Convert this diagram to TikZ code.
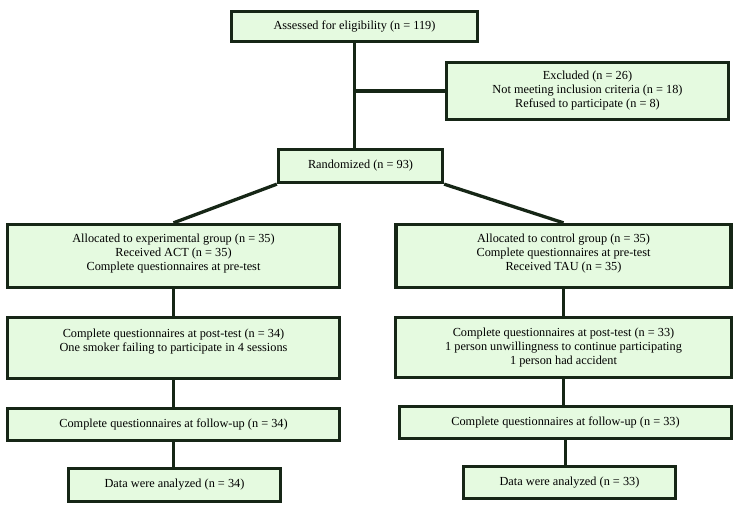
\documentclass[tikz,border=0pt]{standalone}
\usepackage{fontspec}
\setmainfont{Liberation Serif}
\definecolor{boxfill}{RGB}{229,250,224}
\definecolor{boxline}{RGB}{22,38,22}

\begin{document}
\begin{tikzpicture}[x=1pt,y=-1pt]
\tikzstyle{every node}+=[inner sep=0pt, font=\fontsize{12.3}{14}\selectfont, align=center]
\tikzstyle{box}=[draw=boxline, fill=boxfill, line width=3.3pt, rectangle]
\tikzstyle{link}=[draw=boxline, line width=3.3pt]
\useasboundingbox (0,0) rectangle (742,506);
%top
\node [box, minimum width=246pt, minimum height=30pt] (assess) at (354.5,26.5) {Assessed for eligibility (n = 119)};
\node [box, minimum width=282pt, minimum height=57pt] (excl) at (587.5,91) {Excluded (n = 26)\\Not meeting inclusion criteria (n = 18)\\Refused to participate (n = 8)};
\node [box, minimum width=164pt, minimum height=33pt] (rand) at (360.5,166) {Randomized (n = 93)};
%experimental
\node [box, minimum width=332pt, minimum height=63pt, text depth=8pt] (allocE) at (173.5,256) {Allocated to experimental group (n = 35)\\Received ACT (n = 35)\\Complete questionnaires at pre-test};
\node [box, minimum width=332pt, minimum height=61pt, text depth=16pt] (postE) at (173.5,348) {Complete questionnaires at post-test (n = 34)\\One smoker failing to participate in 4 sessions};
\node [box, minimum width=332pt, minimum height=32pt] (followE) at (173.5,424.5) {Complete questionnaires at follow-up (n = 34)};
\node [box, minimum width=212pt, minimum height=33pt] (dataE) at (174.5,485) {Data were analyzed (n = 34)};
%control
\node [box, minimum width=335pt, minimum height=63pt, text depth=8pt] (allocC) at (563.5,256) {Allocated to control group (n = 35)\\Complete questionnaires at pre-test\\Received TAU (n = 35)};
\node [box, minimum width=336pt, minimum height=60pt] (postC) at (563.5,347.5) {Complete questionnaires at post-test (n = 33)\\1 person unwillingness to continue participating\\1 person had accident};
\node [box, minimum width=332pt, minimum height=32pt] (followC) at (565.5,422.5) {Complete questionnaires at follow-up (n = 33)};
\node [box, minimum width=212pt, minimum height=32pt] (dataC) at (569.5,482.5) {Data were analyzed (n = 33)};
%links
\coordinate (split) at (assess.south |- excl.west);
\draw [link] (assess.south) -- (assess.south |- rand.north);
\draw [link] (split) -- (excl.west);
\draw [link] (rand.south west) -- (allocE.north);
\draw [link] (rand.south east) -- (allocC.north);
\draw [link] (allocE.south) -- (postE.north);
\draw [link] (postE.south) -- (followE.north);
\draw [link] (followE.south) -- (followE.south |- dataE.north);
\draw [link] (allocC.south) -- (postC.north);
\draw [link] (postC.south) -- (postC.south |- followC.north);
\draw [link] (followC.south) -- (followC.south |- dataC.north);
\end{tikzpicture}
\end{document}
